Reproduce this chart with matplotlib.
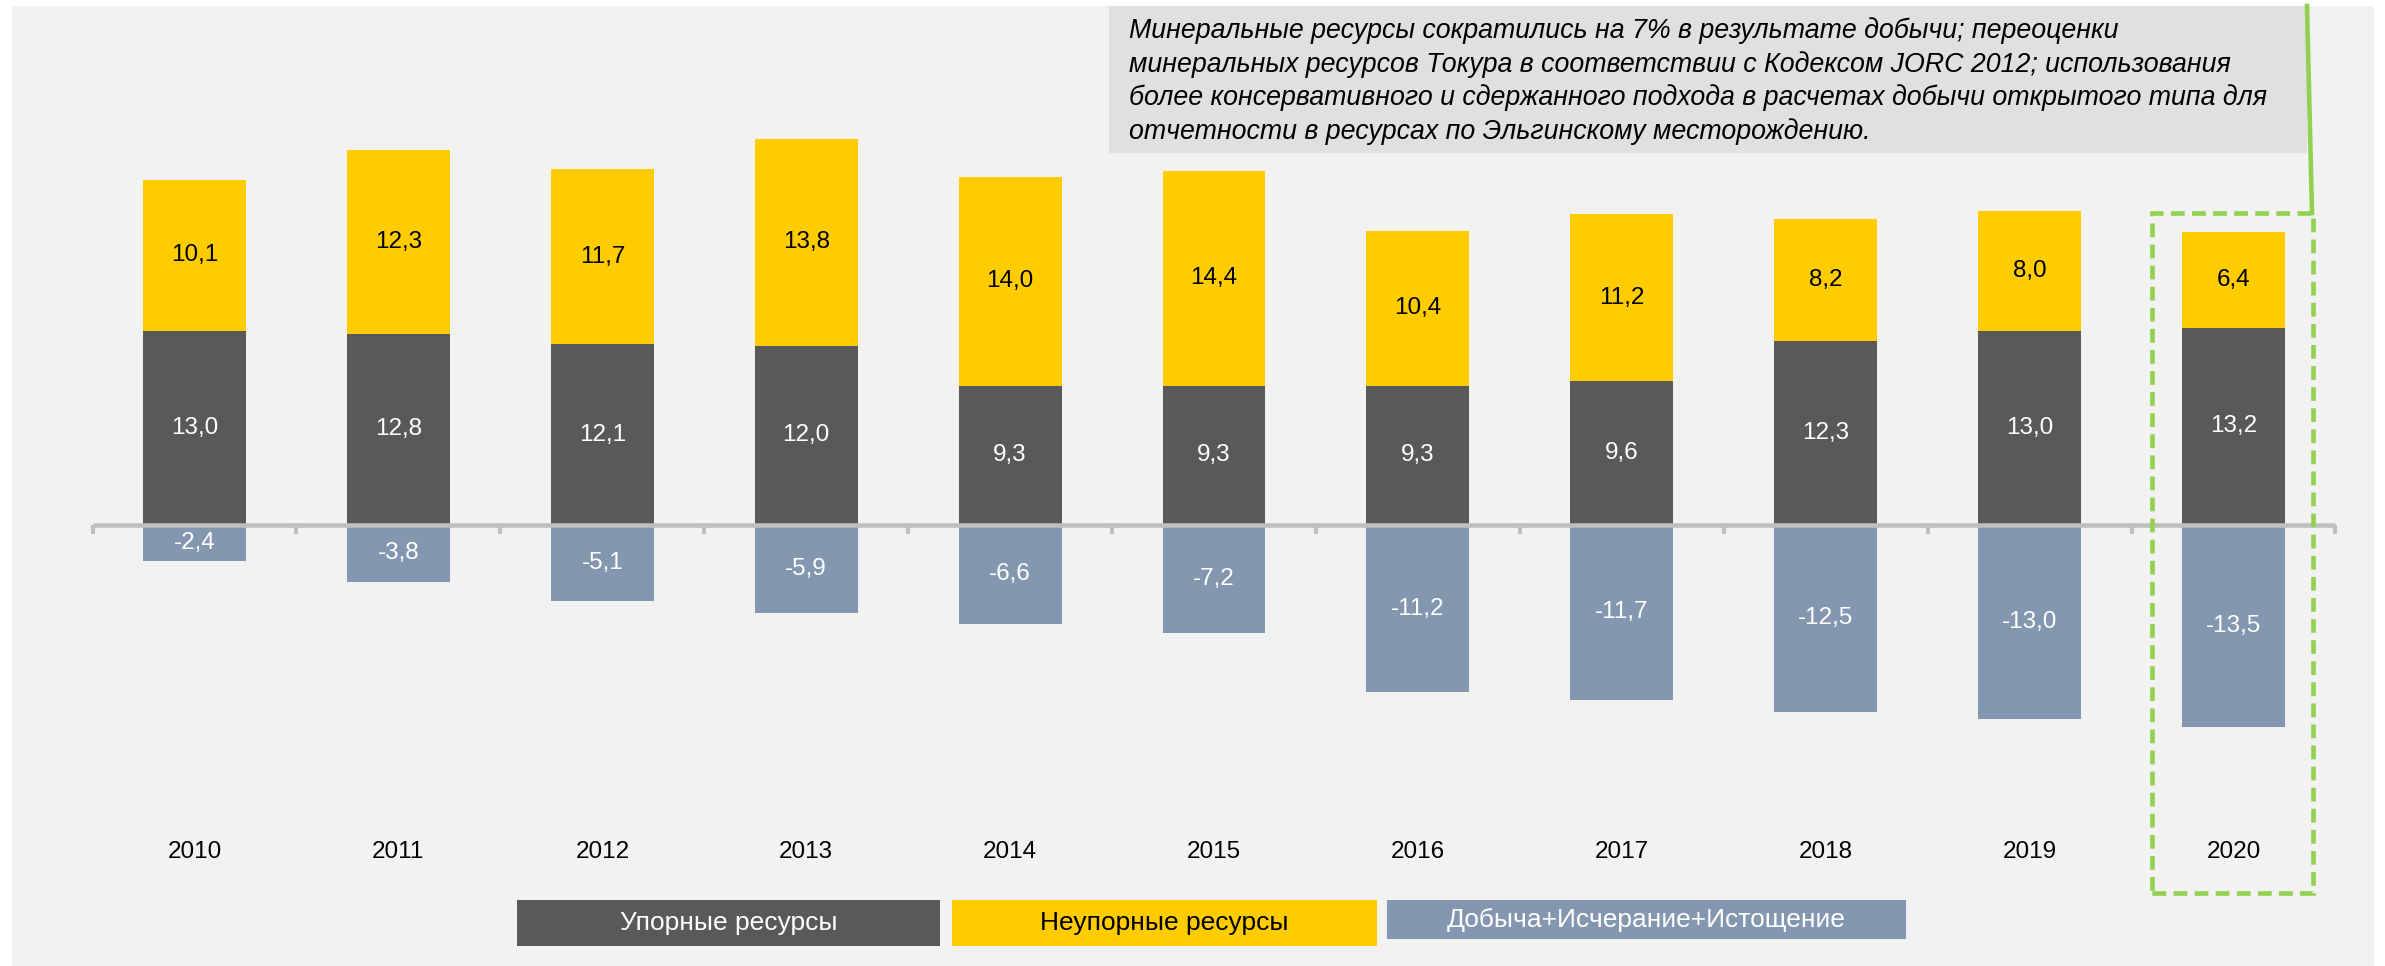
import matplotlib
matplotlib.use('Agg')
import matplotlib.pyplot as plt
from matplotlib.patches import Rectangle
from matplotlib.lines import Line2D

plt.rcParams['font.family'] = ['Liberation Sans', 'DejaVu Sans']

# данные
years = ['2010', '2011', '2012', '2013', '2014', '2015', '2016', '2017', '2018', '2019', '2020']
refractory = [13.0, 12.8, 12.1, 12.0, 9.3, 9.3, 9.3, 9.6, 12.3, 13.0, 13.2]
non_refractory = [10.1, 12.3, 11.7, 13.8, 14.0, 14.4, 10.4, 11.2, 8.2, 8.0, 6.4]
depletion = [-2.4, -3.8, -5.1, -5.9, -6.6, -7.2, -11.2, -11.7, -12.5, -13.0, -13.5]

legend_labels = ['Упорные ресурсы', 'Неупорные ресурсы', 'Добыча+Исчерание+Истощение']
note = ('Минеральные ресурсы сократились на 7% в результате добычи; переоценки\n'
        'минеральных ресурсов Токура в соответствии с Кодексом JORC 2012; использования\n'
        'более консервативного и сдержанного подхода в расчетах добычи открытого типа для\n'
        'отчетности в ресурсах по Эльгинскому месторождению.')

c_dark = '#595959'
c_yellow = '#ffcc00'
c_blue = '#8497b0'
c_green = '#92d050'

W, H = 2385, 966
fig = plt.figure(figsize=(W / 100, H / 100), dpi=100, facecolor='white')


def fx(px):
    return px / W


def fy(py):
    # py - пиксели сверху
    return 1 - py / H


# серый фон
fig.add_artist(Rectangle((fx(12), 0), fx(2374) - fx(12), fy(6), transform=fig.transFigure,
                         facecolor='#f2f2f2', edgecolor='none', zorder=0))

ax = fig.add_axes([0, 0, 1, 1])
ax.set_facecolor('none')
ax.set_xlim(-0.954, 10.743)
ax.set_ylim(-29.5, 35.12)
ax.axis('off')

x = list(range(len(years)))
w = 0.505
ax.bar(x, refractory, width=w, color=c_dark, zorder=2)
ax.bar(x, non_refractory, width=w, bottom=refractory, color=c_yellow, zorder=2)
ax.bar(x, depletion, width=w, color=c_blue, zorder=2)

fs = 17.5
for i in x:
    ax.text(i, refractory[i] / 2, f'{refractory[i]:.1f}'.replace('.', ','),
            ha='center', va='center', color='white', fontsize=fs, zorder=4)
    ax.text(i, refractory[i] + non_refractory[i] / 2, f'{non_refractory[i]:.1f}'.replace('.', ','),
            ha='center', va='center', color='black', fontsize=fs, zorder=4)
    ax.text(i, depletion[i] / 2, f'{depletion[i]:.1f}'.replace('.', ','),
            ha='center', va='center', color='white', fontsize=fs, zorder=4)
    ax.text(i, -21.9, years[i], ha='center', va='center', color='black', fontsize=17.5, zorder=4)

# ось
ax.plot([-0.5, len(years) - 0.5], [0, 0], color='#bfbfbf', lw=3.3, solid_capstyle='butt', zorder=3)
for b in range(len(years) + 1):
    ax.plot([b - 0.5, b - 0.5], [0, -0.6], color='#bfbfbf', lw=3, solid_capstyle='butt', zorder=3)

# выделение 2020
last = len(years) - 1
top = refractory[last] + non_refractory[last] + 1.3
ax.add_patch(Rectangle((last - 0.40, -24.6), 0.79, top + 24.6, fill=False, edgecolor=c_green,
                       lw=3.3, linestyle=(0, (3, 1.6)), zorder=5))

# выноска
fig.add_artist(Rectangle((fx(1109), fy(153)), fx(2307) - fx(1109), fy(6) - fy(153),
                         transform=fig.transFigure, facecolor='#e0e0e0', edgecolor='none', zorder=1))
fig.text(fx(1129), fy(81), note, ha='left', va='center', fontsize=19.3, style='italic',
         linespacing=1.32, color='black', zorder=6)
fig.add_artist(Line2D([fx(2307), fx(2312)], [fy(6), fy(213)], transform=fig.transFigure,
                      color=c_green, lw=3.3, zorder=6))

# легенда
boxes = [(517, 940, 946), (952, 1377, 946), (1387, 1906, 939)]
colors = [c_dark, c_yellow, c_blue]
tcolors = ['white', 'black', 'white']
for (x0, x1, y1), col, tc, lab in zip(boxes, colors, tcolors, legend_labels):
    fig.add_artist(Rectangle((fx(x0), fy(y1)), fx(x1) - fx(x0), fy(900) - fy(y1),
                             transform=fig.transFigure, facecolor=col, edgecolor='none', zorder=2))
    fig.text(fx((x0 + x1) / 2), fy((900 + y1) / 2), lab, ha='center', va='center',
             color=tc, fontsize=19, zorder=3)

fig.savefig('out.png', dpi=100, facecolor=fig.get_facecolor())
